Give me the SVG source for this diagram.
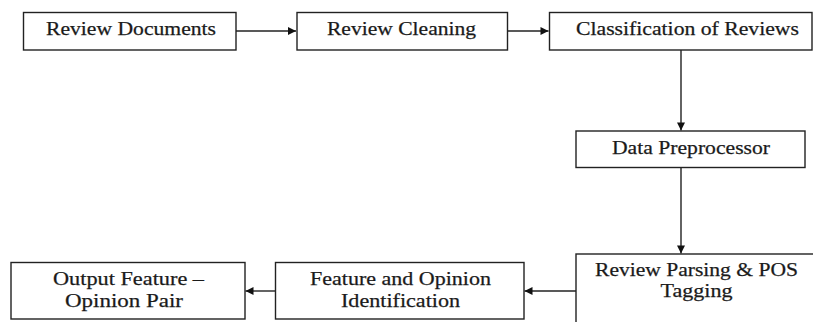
<svg xmlns="http://www.w3.org/2000/svg" width="813" height="322" viewBox="0 0 813 322">
  <style>
    .box { fill: #ffffff; stroke: #222222; stroke-width: 1.4; }
    .lbl { font-family: "Liberation Serif", "Times New Roman", serif; font-size: 19.5px; fill: #1a1a1a; stroke: #1a1a1a; stroke-width: 0.25; text-anchor: middle; }
    .edge { fill: none; stroke: #222222; stroke-width: 1.4; marker-end: url(#head); }
  </style>
  <defs>
    <marker id="head" viewBox="0 0 10 10" refX="10" refY="5" markerWidth="10" markerHeight="8" markerUnits="userSpaceOnUse" orient="auto">
      <path d="M0,0 L10,5 L0,10 Z" fill="#111111"/>
    </marker>
  </defs>
  <rect width="813" height="322" fill="#ffffff"/>

  <g id="connectors">
    <line class="edge" x1="236" y1="31" x2="296" y2="31"/>
    <line class="edge" x1="508" y1="31" x2="548.5" y2="31"/>
    <line class="edge" x1="681" y1="50" x2="681" y2="130.5"/>
    <line class="edge" x1="681" y1="168" x2="681" y2="253.5"/>
    <line class="edge" x1="576" y1="291" x2="524.5" y2="291"/>
    <line class="edge" x1="275.5" y1="291" x2="245.5" y2="291"/>
  </g>

  <g id="review-documents">
    <rect class="box" x="23.5" y="12.5" width="212.5" height="37.5"/>
    <text class="lbl" x="131" y="35" textLength="170" lengthAdjust="spacingAndGlyphs">Review Documents</text>
  </g>
  <g id="review-cleaning">
    <rect class="box" x="297" y="12.5" width="210.5" height="37.5"/>
    <text class="lbl" x="401.5" y="35" textLength="149" lengthAdjust="spacingAndGlyphs">Review Cleaning</text>
  </g>
  <g id="classification">
    <rect class="box" x="549.5" y="12.5" width="262.5" height="37.5"/>
    <text class="lbl" x="687.5" y="35" textLength="223" lengthAdjust="spacingAndGlyphs">Classification of Reviews</text>
  </g>
  <g id="data-preprocessor">
    <rect class="box" x="576" y="131" width="229" height="36.5"/>
    <text class="lbl" x="691" y="153.5" textLength="158" lengthAdjust="spacingAndGlyphs">Data Preprocessor</text>
  </g>
  <g id="review-parsing">
    <rect class="box" x="576" y="254" width="240" height="80"/>
    <text class="lbl" x="696.5" y="276" textLength="203" lengthAdjust="spacingAndGlyphs">Review Parsing &amp; POS</text>
    <text class="lbl" x="696.5" y="296.5" textLength="72" lengthAdjust="spacingAndGlyphs">Tagging</text>
  </g>
  <g id="feature-opinion">
    <rect class="box" x="275.5" y="262.5" width="248.5" height="56.5"/>
    <text class="lbl" x="400.5" y="285" textLength="181" lengthAdjust="spacingAndGlyphs">Feature and Opinion</text>
    <text class="lbl" x="400.5" y="307" textLength="119" lengthAdjust="spacingAndGlyphs">Identification</text>
  </g>
  <g id="output-pair">
    <rect class="box" x="11" y="262.5" width="234" height="56.5"/>
    <text class="lbl" x="128.5" y="285" textLength="151" lengthAdjust="spacingAndGlyphs">Output Feature –</text>
    <text class="lbl" x="124" y="307" textLength="118" lengthAdjust="spacingAndGlyphs">Opinion Pair</text>
  </g>
</svg>
